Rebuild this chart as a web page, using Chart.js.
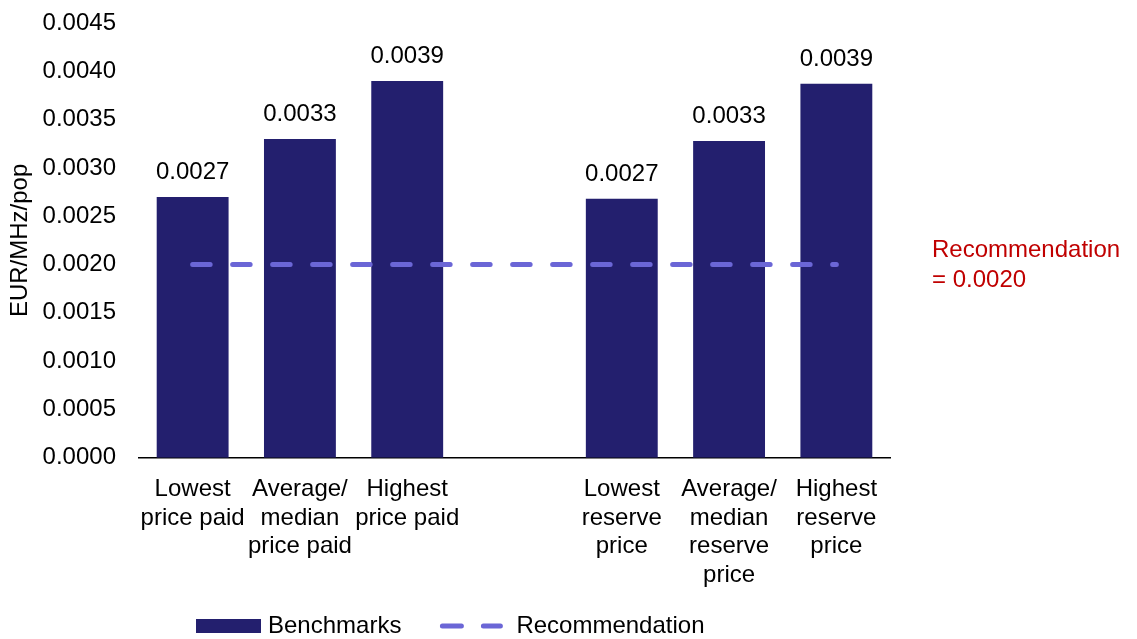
<!DOCTYPE html>
<html>
<head>
<meta charset="utf-8">
<script src="https://cdn.jsdelivr.net/npm/chart.js@4/dist/chart.umd.min.js"></script>
<style>
  html, body { margin: 0; padding: 0; background: #fff; }
  #wrap { width: 1137px; height: 639px; position: relative; }
</style>
</head>
<body>
<div id="wrap"><canvas id="priceChart"></canvas></div>
<script>
const categories = [
    ["Lowest", "price paid"],
    ["Average/", "median", "price paid"],
    ["Highest", "price paid"],
    "",
    ["Lowest", "reserve", "price"],
    ["Average/", "median", "reserve", "price"],
    ["Highest", "reserve", "price"]
];
const benchmarks = [0.0027, 0.0033, 0.0039, null, 0.00268, 0.00328, 0.00387];
const recommendationValue = 0.0020;
const recommendation = categories.map(() => recommendationValue);
const yTicks = { min: 0, max: 0.0045, step: 0.0005 };

const BAR_COLOR = "#231f6e";
const LINE_COLOR = "#6b66d6";
const NOTE_COLOR = "#c00000";
const FONT = "'Liberation Sans', Arial, sans-serif";

Chart.defaults.font.family = FONT;
Chart.defaults.color = "#000";

// value labels above each bar
const barLabels = {
    id: "barLabels",
    afterDatasetsDraw(chart) {
        const { ctx } = chart;
        const meta = chart.getDatasetMeta(0);
        ctx.save();
        ctx.font = "24px " + FONT;
        ctx.fillStyle = "#000";
        ctx.textAlign = "center";
        ctx.textBaseline = "alphabetic";
        meta.data.forEach((bar, i) => {
            const v = benchmarks[i];
            if (v == null) return;
            ctx.fillText(v.toFixed(4), bar.x, bar.y - 18);
        });
        ctx.restore();
    }
};

// red note to the right of the dashed line
const recNote = {
    id: "recNote",
    afterDraw(chart) {
        const { ctx, chartArea, scales } = chart;
        const y = scales.y.getPixelForValue(recommendationValue);
        ctx.save();
        ctx.font = "24px " + FONT;
        ctx.fillStyle = NOTE_COLOR;
        ctx.textAlign = "left";
        ctx.textBaseline = "middle";
        ctx.fillText("Recommendation", chartArea.right + 42, y - 14);
        ctx.fillText("= " + recommendationValue.toFixed(4), chartArea.right + 42, y + 16);
        ctx.restore();
    }
};

// bottom legend: solid swatch for bars, two dashes for the line
const bottomLegend = {
    id: "bottomLegend",
    afterDraw(chart) {
        const { ctx } = chart;
        const ds = chart.data.datasets;
        const y = 626;
        let x = 196;
        ctx.save();
        ctx.font = "24px " + FONT;
        ctx.textBaseline = "middle";
        ctx.textAlign = "left";

        ctx.fillStyle = ds[0].backgroundColor;
        ctx.fillRect(x, y - 7, 65, 14);
        x += 72;
        ctx.fillStyle = "#000";
        ctx.fillText(ds[0].label, x, y);
        x += ctx.measureText(ds[0].label).width + 39;

        ctx.strokeStyle = ds[1].borderColor;
        ctx.lineWidth = 5;
        ctx.lineCap = "round";
        ctx.beginPath();
        ctx.moveTo(x + 2, y); ctx.lineTo(x + 21, y);
        ctx.moveTo(x + 43, y); ctx.lineTo(x + 60, y);
        ctx.stroke();
        x += 76;
        ctx.fillStyle = "#000";
        ctx.fillText(ds[1].label, x, y);
        ctx.restore();
    }
};

new Chart(document.getElementById("priceChart"), {
    data: {
        labels: categories,
        datasets: [
            {
                type: "bar",
                label: "Benchmarks",
                data: benchmarks,
                backgroundColor: BAR_COLOR,
                categoryPercentage: 1,
                barPercentage: 0.67,
                order: 1
            },
            {
                type: "line",
                label: "Recommendation",
                data: recommendation,
                borderColor: LINE_COLOR,
                borderWidth: 5,
                borderDash: [17.5, 22.5],
                borderCapStyle: "round",
                pointRadius: 0,
                fill: false,
                order: 0
            }
        ]
    },
    options: {
        responsive: true,
        maintainAspectRatio: false,
        animation: false,
        layout: { padding: { left: 4, right: 247, top: 23, bottom: 32 } },
        plugins: {
            legend: { display: false },
            tooltip: { enabled: false }
        },
        scales: {
            x: {
                grid: { display: false, drawTicks: false },
                border: { display: true, color: "#000", width: 1.5 },
                ticks: {
                    font: { size: 24, lineHeight: 1.2 },
                    color: "#000",
                    padding: 17,
                    maxRotation: 0,
                    autoSkip: false
                }
            },
            y: {
                min: yTicks.min,
                max: yTicks.max,
                grid: { display: false, drawTicks: false },
                border: { display: false },
                afterFit: scale => {
                    scale.width = 135;
                    scale.paddingTop = 0;
                    scale.paddingBottom = 0;
                },
                ticks: {
                    stepSize: yTicks.step,
                    font: { size: 24 },
                    color: "#000",
                    padding: 23,
                    callback: v => v.toFixed(4)
                },
                title: {
                    display: true,
                    text: "EUR/MHz/pop",
                    font: { size: 24 },
                    color: "#000",
                    padding: { top: 2, bottom: 8 }
                }
            }
        }
    },
    plugins: [barLabels, recNote, bottomLegend]
});
</script>
</body>
</html>
